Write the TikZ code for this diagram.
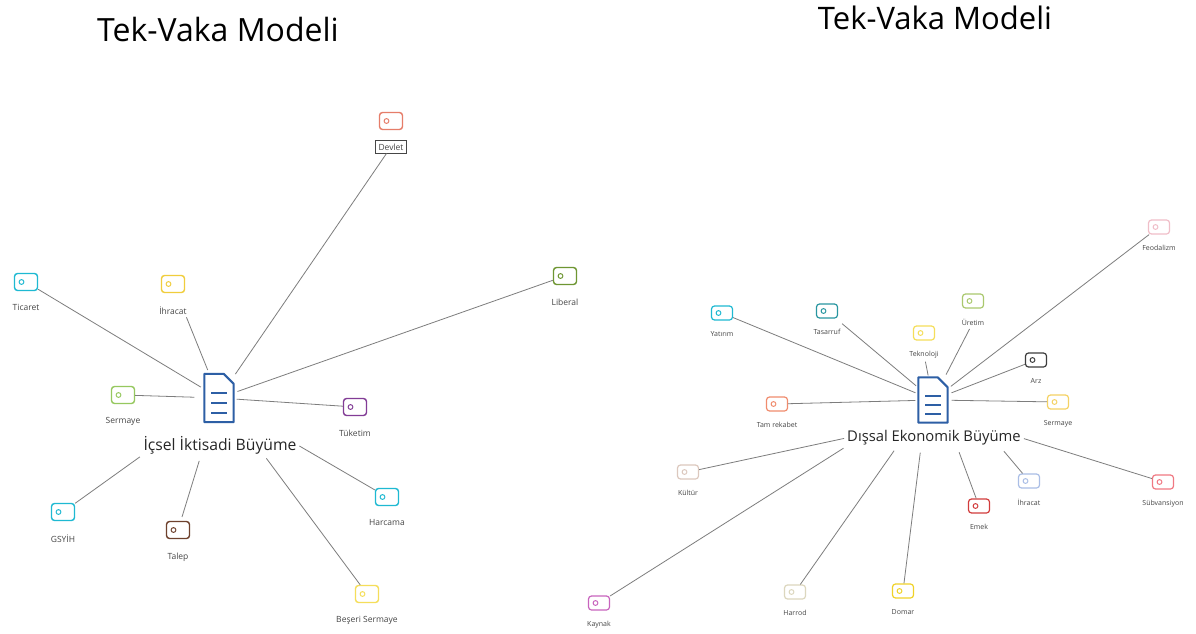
\documentclass[tikz,border=0pt]{standalone}
\usepackage{fontspec}
\setmainfont{Open Sans}

\definecolor{linegray}{RGB}{125,125,125}
\definecolor{labelgray}{RGB}{70,70,70}
\definecolor{docblue}{RGB}{45,95,165}
\definecolor{cCyan}{RGB}{30,185,210}
\definecolor{cYellow}{RGB}{240,205,60}
\definecolor{cSalmon}{RGB}{230,125,105}
\definecolor{cOlive}{RGB}{110,150,50}
\definecolor{cLime}{RGB}{150,200,95}
\definecolor{cPurple}{RGB}{130,60,150}
\definecolor{cBrown}{RGB}{110,65,45}
\definecolor{cPale}{RGB}{245,222,90}
\definecolor{cPink}{RGB}{240,190,200}
\definecolor{cTeal}{RGB}{40,150,160}
\definecolor{cLolive}{RGB}{170,200,110}
\definecolor{cDark}{RGB}{60,60,60}
\definecolor{cOrange}{RGB}{245,210,100}
\definecolor{cRose}{RGB}{240,140,110}
\definecolor{cBeige}{RGB}{220,200,190}
\definecolor{cRed}{RGB}{210,60,60}
\definecolor{cBlue}{RGB}{170,190,230}
\definecolor{cPinkred}{RGB}{240,120,130}
\definecolor{cMagenta}{RGB}{200,100,190}
\definecolor{cSand}{RGB}{220,215,190}
\definecolor{cGold}{RGB}{240,210,40}

\begin{document}
\begin{tikzpicture}[x=1pt,y=-1pt]

\tikzstyle{ltag}=[rectangle,draw=#1,line width=1.4pt,rounded corners=3pt,minimum width=23pt,minimum height=17pt,inner sep=0pt,path picture={\draw[#1,line width=1pt] ([xshift=7pt]path picture bounding box.west) circle (2.4pt);}]
\tikzstyle{rtag}=[ltag=#1,line width=1.2pt,minimum width=21pt,minimum height=14pt]
\tikzstyle{ltext}=[text=labelgray,font=\fontsize{8.5}{10}\selectfont,yshift=-10pt]
\tikzstyle{rtext}=[text=labelgray,font=\fontsize{7}{8}\selectfont,yshift=-7pt]
\tikzstyle{llabel}=[label={[ltext]below:#1}]
\tikzstyle{rlabel}=[label={[rtext]below:#1}]
\tikzstyle{doc}=[minimum width=29pt,minimum height=48pt,inner sep=0pt]
\tikzstyle{docline}=[draw=docblue,line width=2pt,line join=round]
\tikzstyle{hubtext}=[text=black!85,inner sep=1pt]
\tikzstyle{conn}=[draw=linegray,line width=0.8pt]

\useasboundingbox[fill=white] (0,0) rectangle (1196,634);

%titles
\node[font=\fontsize{32}{36}\selectfont] (titleL) at (218,30) {Tek-Vaka Modeli};
\node[font=\fontsize{31}{36}\selectfont] (titleR) at (935,18) {Tek-Vaka Modeli};

%left hub
\node[doc] (hubL) at (219,398) {};
\draw[docline] (hubL.south west) -- (hubL.north west) -- ([xshift=-10pt]hubL.north east) -- ([yshift=-10pt]hubL.north east) -- (hubL.south east) -- cycle;
\foreach \dy in {5,-5,-15}
  \draw[docline] ([xshift=7pt,yshift=\dy pt]hubL.west) -- ([xshift=-7pt,yshift=\dy pt]hubL.east);
\node[hubtext,font=\fontsize{15.7}{18}\selectfont] (hubLtxt) at (220,445) {İçsel İktisadi Büyüme};

%left leaves
\node[ltag=cCyan,llabel=Ticaret] (ticaret) at (26,282) {};
\node[ltag=cYellow,llabel=İhracat] (ihracatL) at (173,284) {};
\node[ltag=cSalmon,label={[ltext,name=devletlbl,draw=labelgray,line width=0.8pt,inner sep=3pt]below:Devlet}] (devlet) at (391,121) {};
\node[ltag=cOlive,llabel=Liberal] (liberal) at (565,276) {};
\node[ltag=cLime,llabel=Sermaye] (sermayeL) at (123,395) {};
\node[ltag=cPurple,llabel=Tüketim] (tuketim) at (355,407) {};
\node[ltag=cCyan,llabel=GSYİH] (gsyih) at (63,512) {};
\node[ltag=cBrown,llabel=Talep] (talep) at (178,530) {};
\node[ltag=cCyan,llabel=Harcama] (harcama) at (387,497) {};
\node[ltag=cPale,llabel=Beşeri Sermaye] (beseri) at (367,594) {};

%left connections
\draw[conn,shorten >=4pt] (ticaret) -- (hubL);
\draw[conn,shorten <=26pt,shorten >=4pt] (ihracatL) -- (hubL);
\draw[conn,shorten >=3pt] (devletlbl) -- (hubL);
\draw[conn,shorten >=4pt] (liberal) -- (hubL);
\draw[conn,shorten >=10pt] (sermayeL) -- (hubL);
\draw[conn,shorten >=3pt] (tuketim) -- (hubL);
\draw[conn,shorten >=3pt] (gsyih) -- (hubLtxt.south west);
\draw[conn,shorten <=4pt,shorten >=6pt] (talep) -- ([xshift=-19pt]hubLtxt.south);
\draw[conn,shorten >=2pt] (harcama) -- (hubLtxt.east);
\draw[conn,shorten >=4pt] (beseri) -- ([xshift=44pt]hubLtxt.south);

%right hub
\node[doc,minimum height=45pt] (hubR) at (933,400) {};
\draw[docline] (hubR.south west) -- (hubR.north west) -- ([xshift=-10pt]hubR.north east) -- ([yshift=-10pt]hubR.north east) -- (hubR.south east) -- cycle;
\foreach \dy in {4,-5,-14}
  \draw[docline] ([xshift=7pt,yshift=\dy pt]hubR.west) -- ([xshift=-7pt,yshift=\dy pt]hubR.east);
\node[hubtext,font=\fontsize{14.8}{18}\selectfont] (hubRtxt) at (934,438) {Dışsal Ekonomik Büyüme};

%right leaves
\node[rtag=cPink,rlabel=Feodalizm] (feodalizm) at (1159,227) {};
\node[rtag=cCyan,rlabel=Yatırım] (yatirim) at (722,313) {};
\node[rtag=cTeal,rlabel=Tasarruf] (tasarruf) at (827,311) {};
\node[rtag=cPale,label={[rtext,name=teknolojilbl]below:Teknoloji}] (teknoloji) at (924,333) {};
\node[rtag=cLolive,label={[rtext,name=uretimlbl]below:Üretim}] (uretim) at (973,301) {};
\node[rtag=cDark,rlabel=Arz] (arz) at (1036,360) {};
\node[rtag=cOrange,rlabel=Sermaye] (sermayeR) at (1058,402) {};
\node[rtag=cRose,rlabel=Tam rekabet] (tamrekabet) at (777,404) {};
\node[rtag=cBeige,rlabel=Kültür] (kultur) at (688,472) {};
\node[rtag=cRed,rlabel=Emek] (emek) at (979,506) {};
\node[rtag=cBlue,rlabel=İhracat] (ihracatR) at (1029,481) {};
\node[rtag=cPinkred,rlabel=Sübvansiyon] (subvansiyon) at (1163,482) {};
\node[rtag=cMagenta,rlabel=Kaynak] (kaynak) at (599,603) {};
\node[rtag=cSand,rlabel=Harrod] (harrod) at (795,592) {};
\node[rtag=cGold,rlabel=Domar] (domar) at (903,591) {};

%right connections
\draw[conn,shorten >=4pt] (feodalizm) -- (hubR);
\draw[conn,shorten >=3pt] (yatirim) -- (hubR);
\draw[conn,shorten <=8pt,shorten >=3pt] (tasarruf) -- (hubR);
\draw[conn,shorten >=2pt] (teknolojilbl) -- (hubR);
\draw[conn,shorten >=3pt] (uretimlbl) -- (hubR);
\draw[conn,shorten >=4pt] (arz) -- (hubR);
\draw[conn,shorten >=4pt] (sermayeR) -- (hubR);
\draw[conn,shorten >=3pt] (tamrekabet) -- (hubR);
\draw[conn,shorten >=2pt] (kultur) -- (hubRtxt.west);
\draw[conn,shorten >=6pt] (ihracatR) -- ([xshift=66pt]hubRtxt.south);
\draw[conn,shorten >=6pt] (emek) -- ([xshift=23pt]hubRtxt.south);
\draw[conn,shorten >=2pt] (subvansiyon) -- (hubRtxt.east);
\draw[conn,shorten >=3pt] (kaynak) -- (hubRtxt.south west);
\draw[conn,shorten >=5pt] (harrod) -- ([xshift=-37pt]hubRtxt.south);
\draw[conn,shorten >=6pt] (domar) -- ([xshift=-13pt]hubRtxt.south);

\end{tikzpicture}
\end{document}
